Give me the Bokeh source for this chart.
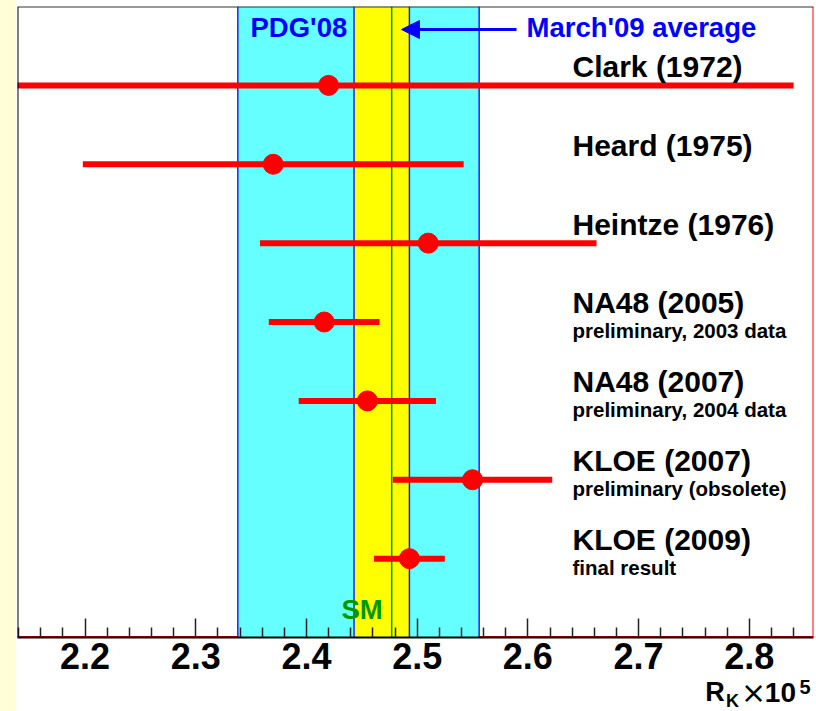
from bokeh.plotting import figure
from bokeh.models import (ColumnDataSource, Range1d, FixedTicker, Span, Label,
                          Arrow, NormalHead, Div, PrintfTickFormatter)
from bokeh.layouts import row, column
from bokeh.embed import file_html
from bokeh.resources import INLINE
from bokeh.core.properties import value

# ---------------- data ----------------
experiments = ["Clark (1972)", "Heard (1975)", "Heintze (1976)", "NA48 (2005)",
               "NA48 (2007)", "KLOE (2007)", "KLOE (2009)"]
notes = ["", "", "", "preliminary, 2003 data", "preliminary, 2004 data",
         "preliminary (obsolete)", "final result"]
rk_values = [2.42, 2.37, 2.51, 2.416, 2.455, 2.55, 2.493]
rk_errors = [0.42, 0.172, 0.152, 0.050, 0.062, 0.072, 0.032]

pdg08_value, pdg08_error = 2.447, 0.109
avg09_value, avg09_error = 2.468, 0.025
sm_value = 2.477

tick_values = [2.2, 2.3, 2.4, 2.5, 2.6, 2.7, 2.8]
tick_labels = ["2.2", "2.3", "2.4", "2.5", "2.6", "2.7", "2.8"]

pdg_text = "PDG'08"
avg_text = "March'09 average"
sm_text = "SM"
axis_title_parts = ["R", "K", "\u00d7", "10", "5"]

# ---------------- geometry helpers ----------------
X0, X1 = 2.139, 2.858
Y0, Y1 = 0.0, 8.0
FL, FR, FT, FB = 17, 813, 6, 637   # frame edges in page pixels
SHIFT = 0.37                        # baseline correction (fraction of font size)


def xd(px):
    return X0 + (px - FL) * (X1 - X0) / (FR - FL)


def yd(py):
    return Y1 - (py - FT) * (Y1 - Y0) / (FB - FT)


n = len(experiments)
ypos = [n - i for i in range(n)]
src = ColumnDataSource(dict(
    y=ypos, x=rk_values,
    lo=[v - e for v, e in zip(rk_values, rk_errors)],
    hi=[v + e for v, e in zip(rk_values, rk_errors)],
    name=experiments, note=notes))

minor_ticks = [round(2.14 + 0.02 * i, 2) for i in range(37)]
minor_ticks = [t for t in minor_ticks if round(t * 10, 6) % 1 != 0]

MAIN_H = 675
p = figure(width=801, height=MAIN_H, x_range=Range1d(X0, X1), y_range=Range1d(Y0, Y1),
           output_backend="svg", toolbar_location=None, y_axis_location=None,
           min_border_left=2, min_border_right=3, min_border_top=6,
           min_border_bottom=MAIN_H - FB)
p.grid.visible = False
p.outline_line_color = None
p.background_fill_color = "white"
p.border_fill_color = "white"

# red frame part (under the bands)
p.add_layout(Span(location=Y0, dimension="width", line_color="red", line_width=3, level="underlay"))

# bands
p.quad(left=[pdg08_value - pdg08_error], right=[pdg08_value + pdg08_error],
       bottom=[Y0], top=[Y1], fill_color="#66FFFF", line_color=None)
p.quad(left=[avg09_value - avg09_error], right=[avg09_value + avg09_error],
       bottom=[Y0], top=[Y1], fill_color="#FFFF00", line_color=None)
edges = [pdg08_value - pdg08_error, pdg08_value + pdg08_error,
         avg09_value - avg09_error, avg09_value + avg09_error]
p.segment(x0=edges, y0=[Y0] * 4, x1=edges, y1=[Y1] * 4, line_color="#2020FF", line_width=1.5)
p.segment(x0=[sm_value], y0=[Y0], x1=[sm_value], y1=[Y1], line_color="#009900", line_width=1.5)

# measurements
p.segment(x0="lo", y0="y", x1="hi", y1="y", source=src, line_color="red", line_width=6)
p.scatter(x="x", y="y", source=src, size=20, fill_color="red", line_color="red")

p.text(x=xd(572), y="y", text="name", source=src, y_offset=-8 - SHIFT * 30,
       text_font=value("Liberation Sans"), text_font_style="bold", text_font_size="30px",
       text_color="black", text_baseline="alphabetic", text_align="left")
p.text(x=xd(572), y="y", text="note", source=src, y_offset=16 - SHIFT * 20.5,
       text_font=value("Liberation Sans"), text_font_style="bold", text_font_size="20.5px",
       text_color="black", text_baseline="alphabetic", text_align="left")

# frame lines
p.add_layout(Span(location=X1, dimension="height", line_color="red", line_width=2))
p.add_layout(Span(location=X0, dimension="height", line_color="black", line_width=2))
p.add_layout(Span(location=Y1, dimension="width", line_color="#333333", line_width=2))

# annotations
p.add_layout(Label(x=xd(250), y=yd(37 - SHIFT * 27.5), text=pdg_text, text_font="Liberation Sans",
                   text_font_style="bold", text_font_size="27.5px", text_color="blue",
                   text_baseline="alphabetic"))
p.add_layout(Label(x=xd(526), y=yd(37 - SHIFT * 27.5), text=avg_text, text_font="Liberation Sans",
                   text_font_style="bold", text_font_size="27.5px", text_color="blue",
                   text_baseline="alphabetic"))
p.add_layout(Label(x=xd(341), y=yd(619 - SHIFT * 27.5), text=sm_text, text_font="Liberation Sans",
                   text_font_style="bold", text_font_size="27.5px", text_color="#009900",
                   text_baseline="alphabetic"))
p.add_layout(Arrow(end=NormalHead(size=18, fill_color="blue", line_color="blue", line_width=1),
                   x_start=xd(516), y_start=yd(29), x_end=xd(401), y_end=yd(29),
                   line_color="blue", line_width=3))

# x axis
ax = p.xaxis[0]
ax.ticker = FixedTicker(ticks=tick_values, minor_ticks=minor_ticks)
ax.formatter = PrintfTickFormatter(format="%.1f")
ax.major_label_overrides = {v: l for v, l in zip(tick_values, tick_labels)}
ax.axis_line_color = "black"
ax.axis_line_width = 2
ax.major_tick_in = 19
ax.major_tick_out = 0
ax.minor_tick_in = 10
ax.minor_tick_out = 0
ax.major_tick_line_color = "#222222"
ax.minor_tick_line_color = "#222222"
ax.major_tick_line_width = 1.5
ax.minor_tick_line_width = 1.5
ax.major_label_text_font = "Liberation Sans"
ax.major_label_text_font_style = "bold"
ax.major_label_text_font_size = "36px"
ax.major_label_text_color = "black"
ax.major_label_standoff = 5

# axis title strip (R_K x 10^5), coordinates in page pixels
TITLE_H = 711 - MAIN_H
t = figure(width=801, height=TITLE_H, x_range=Range1d(15, 816), y_range=Range1d(711, MAIN_H),
           output_backend="svg", toolbar_location=None, x_axis_location=None,
           y_axis_location=None, min_border=0)
t.grid.visible = False
t.outline_line_color = None
t.background_fill_color = "white"
t.border_fill_color = "white"
title_layout = [(707, 701, 27, "bold", "Liberation Sans"),
                (728, 707, 18, "bold", "Liberation Sans"),
                (743, 703, 30, "normal", "DejaVu Sans"),
                (767, 702, 28, "bold", "Liberation Sans"),
                (802, 694, 20, "bold", "Liberation Sans")]
for txt, (px, py, fs, fw, fnt) in zip(axis_title_parts, title_layout):
    t.text(x=[px], y=[py - SHIFT * fs], text=[txt], text_font=value(fnt),
           text_font_style=fw, text_font_size=f"{fs}px", text_color="black",
           text_baseline="alphabetic", text_align="left")

strip = Div(width=15, height=711, margin=0, styles={"background-color": "#FFFED6"})
layout = row(strip, column(p, t, spacing=0), spacing=0)

open("out.html", "w").write(file_html(layout, INLINE))
